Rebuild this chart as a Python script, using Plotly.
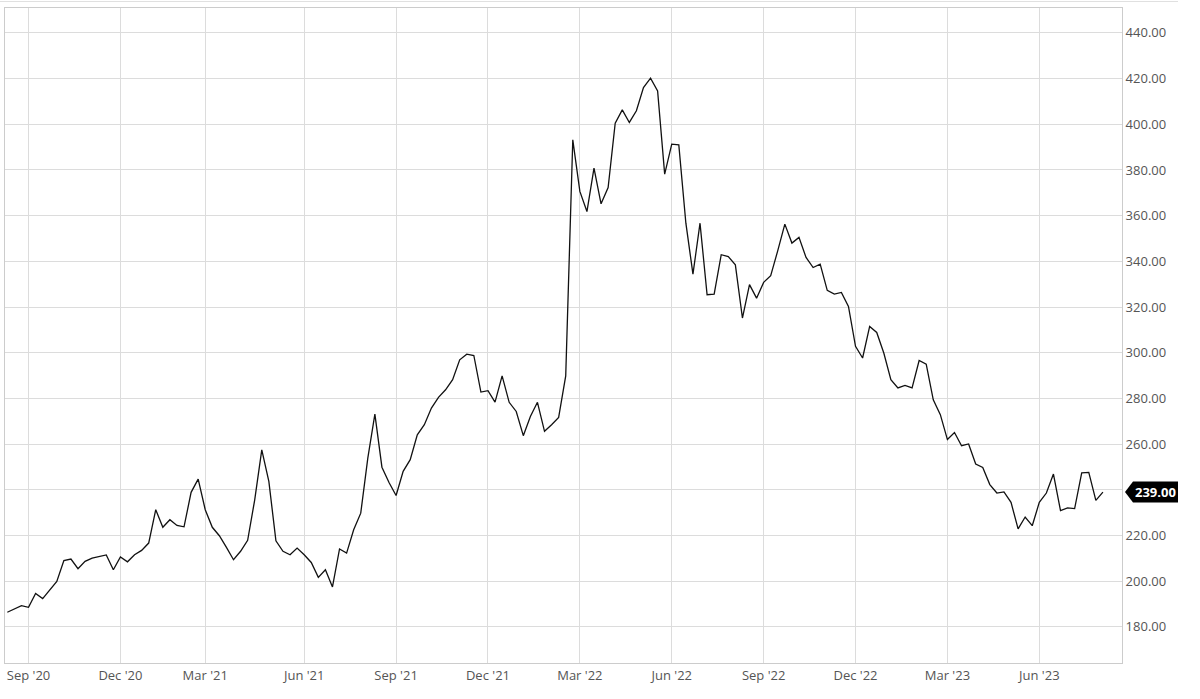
import pandas as pd
import plotly.graph_objects as go

# ---- data (weekly closes) ----
start_date = "2020-08-14"
prices = [
    186.4, 187.8, 189.3, 188.6, 194.6, 192.4, 196.3, 199.9, 209.0, 209.7,
    205.5, 208.7, 210.1, 210.9, 211.5, 205.0, 210.6, 208.5, 211.6, 213.5,
    216.7, 231.3, 223.6, 226.9, 224.4, 223.8, 238.9, 244.7,
    231.3, 223.6, 219.9, 214.8, 209.4, 213.1, 217.9, 235.6, 257.5, 243.7,
    217.7, 213.1, 211.6, 214.5, 211.6, 208.2, 201.7, 205.0, 197.5, 214.1,
    212.3, 222.5, 229.8, 253.9, 273.1, 249.9, 243.2, 237.5,
    248.1, 253.2, 264.1, 268.5, 275.8, 280.5, 283.8, 288.2, 296.9, 299.4,
    298.8, 282.8, 283.4, 278.4, 289.9, 278.3, 274.3, 263.7, 272.1, 278.3,
    265.6, 268.5, 271.7, 289.9, 393.2, 370.6, 361.8,
    380.8, 365.2, 372.3, 400.5, 406.3, 400.8, 405.9, 416.1, 420.2, 414.6,
    378.2, 391.3, 391.0, 356.7, 334.4, 356.7, 325.4, 325.7, 342.9, 342.1,
    338.5, 315.2, 329.8, 323.9, 330.8, 333.7,
    344.7, 356.3, 348.0, 350.5, 341.7, 337.3, 338.8, 327.3, 325.7, 326.4,
    320.3, 302.8, 297.7, 311.5, 308.9, 299.9, 288.2, 284.6, 285.7, 284.6,
    296.6, 295.0, 279.4, 272.9, 262.0, 265.1,
    259.3, 260.1, 251.3, 249.8, 242.3, 238.6, 239.1, 234.5, 222.9, 228.1,
    224.3, 234.5, 238.6, 246.9, 230.9, 232.1, 231.8, 247.4, 247.6, 235.4,
    239.0,
]
tick_index = [3, 16, 28, 42, 55, 68, 81, 94, 107, 120, 133, 146]
tick_labels = ["Sep '20", "Dec '20", "Mar '21", "Jun '21", "Sep '21", "Dec '21",
               "Mar '22", "Jun '22", "Sep '22", "Dec '22", "Mar '23", "Jun '23"]
y_ticks = [180, 200, 220, 240, 260, 280, 300, 320, 340, 360, 380, 400, 420, 440]

dates = pd.date_range(start_date, periods=len(prices), freq="7D")
tick_vals = [dates[i] for i in tick_index]
x_start = dates[0] - pd.Timedelta(hours=2.3 * 24)
x_end = dates[0] + pd.Timedelta(days=157.7 * 7)

W, H = 1200, 699
ML, MR, MT, MB = 5, 78, 8, 36
Y0, Y1 = 164.2, 450.9

FONT = "Open Sans, Noto Sans, sans-serif"
GRID = "#dcdcdc"

last = prices[-1]
# the tick label hidden behind the last-value tag
y_ticktext = ["" if abs(v - last) < 10 else f"{v:.2f}" for v in y_ticks]

fig = go.Figure()
fig.add_trace(go.Scatter(
    x=dates, y=prices, mode="lines",
    line=dict(color="#111111", width=1.3),
    hoverinfo="skip", showlegend=False,
))

# last value tag
plot_w = W - ML - MR
plot_h = H - MT - MB
px_to_paper = 1.0 / plot_w
units_per_px = (Y1 - Y0) / plot_h
x_tip = 1 + 3 * px_to_paper
x_box = 1 + 11 * px_to_paper
x_end_tag = 1 + 56 * px_to_paper
hh = 10.5 * units_per_px
tag_path = (f"M {x_tip} {last} L {x_box} {last + hh} L {x_end_tag} {last + hh} "
            f"L {x_end_tag} {last - hh} L {x_box} {last - hh} Z")
fig.add_shape(type="path", xref="paper", yref="y", path=tag_path,
              fillcolor="#000000", line=dict(width=0), layer="above")
fig.add_annotation(xref="paper", yref="y", x=(x_box + x_end_tag) / 2, y=last,
                   text=f"<b>{last:.2f}</b>", showarrow=False,
                   font=dict(family=FONT, size=13, color="#ffffff"),
                   xanchor="center", yanchor="middle")

# thin line at very top of image
fig.add_shape(type="line", xref="paper", yref="paper",
              x0=-ML * px_to_paper, x1=1 + 56 * px_to_paper,
              y0=1 + 6.5 / plot_h, y1=1 + 6.5 / plot_h,
              line=dict(color="#e0e0e0", width=1))

fig.update_layout(
    width=W, height=H,
    margin=dict(l=ML, r=MR, t=MT, b=MB),
    paper_bgcolor="#ffffff", plot_bgcolor="#ffffff",
    font=dict(family=FONT, size=13, color="#555555"),
    xaxis=dict(
        type="date", range=[x_start, x_end],
        tickmode="array", tickvals=tick_vals, ticktext=tick_labels,
        showgrid=True, gridcolor=GRID, gridwidth=1,
        showline=True, linecolor="#cccccc", linewidth=1, mirror=True,
        ticks="", zeroline=False,
        tickfont=dict(family=FONT, size=13, color="#555555"),
    ),
    yaxis=dict(
        side="right", range=[Y0, Y1],
        tickmode="array", tickvals=y_ticks, ticktext=y_ticktext,
        showgrid=True, gridcolor=GRID, gridwidth=1,
        showline=True, linecolor="#cccccc", linewidth=1, mirror=True,
        ticks="", zeroline=False,
        tickfont=dict(family=FONT, size=13, color="#555555"),
    ),
)

fig.write_html("out.html",
               config={"displayModeBar": False},
               post_script="document.body.style.margin='0px';document.body.style.overflow='hidden';")
